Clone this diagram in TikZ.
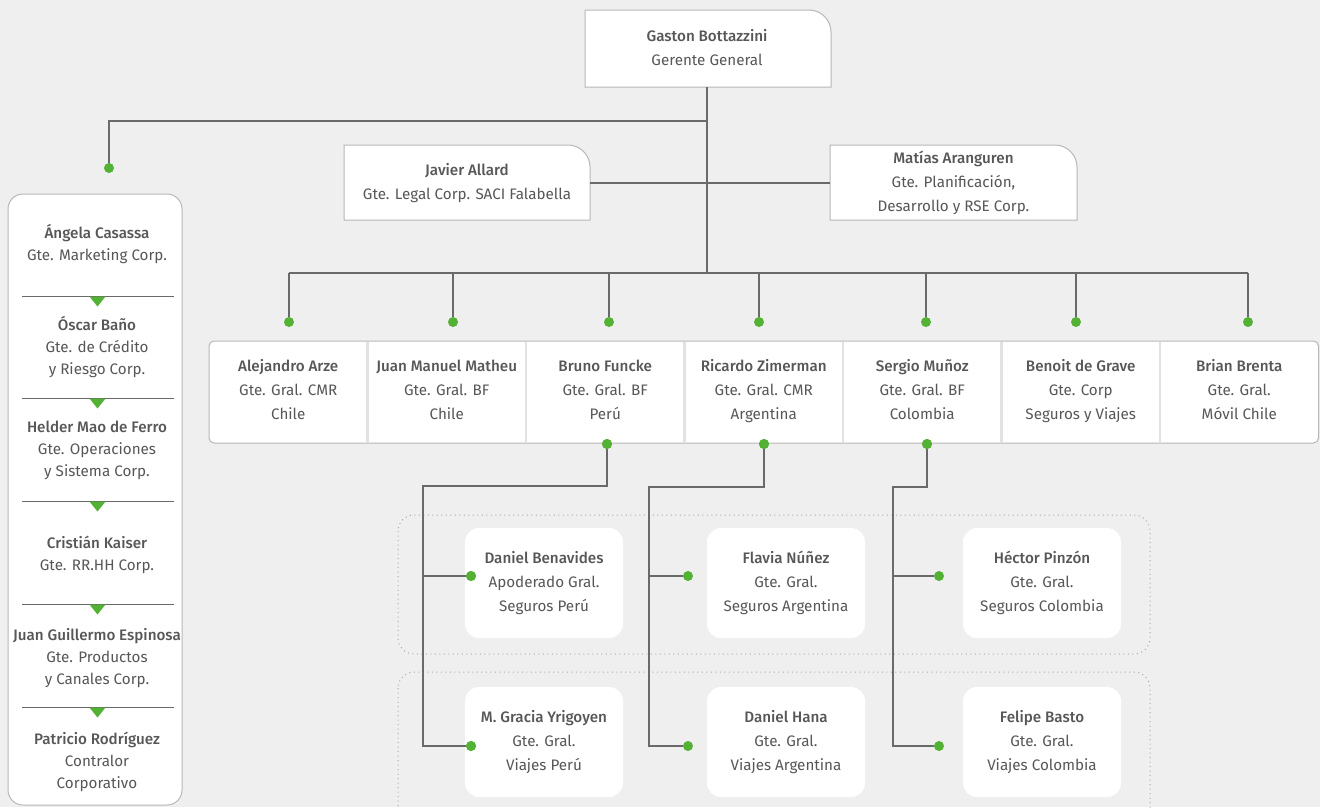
\documentclass[tikz,border=0pt]{standalone}
\usepackage{fontspec}
\setmainfont{Fira Sans}[BoldFont={Fira Sans Medium}]
\definecolor{bgc}{HTML}{EFEFEF}
\definecolor{bordc}{HTML}{B8B8B8}
\definecolor{linec}{HTML}{6A6A6A}
\definecolor{grn}{HTML}{53B134}
\definecolor{txtc}{HTML}{575757}
\definecolor{frc}{HTML}{A8A8A8}
\definecolor{sepc}{HTML}{E2E2E2}
\newcommand{\nm}[2]{\strut\textbf{#1}\\#2\strut}
\begin{document}
\begin{tikzpicture}[x=1pt,y=-1pt,
  txt/.style={font=\fontsize{15.2}{24}\selectfont, text=txtc, align=center, inner sep=0pt},
  ltxt/.style={font=\fontsize{15.2}{22}\selectfont, text=txtc, align=center, inner sep=0pt},
  cell/.style={txt, minimum width=158pt, minimum height=102pt},
  wbox/.style={txt, fill=white, rounded corners=14pt, minimum width=158pt, minimum height=110pt},
  gdot/.style={circle, fill=grn, inner sep=0pt, minimum size=10pt},
  conn/.style={draw=linec, line width=1.1pt},
  frame/.style={draw=frc, line width=1pt, dash pattern=on 1pt off 3.5pt, rounded corners=16pt},
  outl/.style={fill=white, draw=bordc, line width=1pt},
  sepl/.style={draw=linec, line width=1pt},
  tri/.style={fill=grn}
]
\useasboundingbox (0,0) rectangle (1320,807);
\fill[bgc] (0,0) rectangle (1320,807);
\clip (0,0) rectangle (1320,807);

% ---------- top box ----------
\path[outl] (585,87) -- (585,10) -- (809,10) .. controls (821.1,10) and (831,19.9) .. (831,32) -- (831,87) -- cycle;
\node[txt, minimum width=246pt, minimum height=77pt] (gm) at (707,48.5) {\nm{Gaston Bottazzini}{Gerente General}};

% ---------- staff boxes ----------
\path[outl] (344,220) -- (344,145) -- (568,145) .. controls (580.1,145) and (590,154.9) .. (590,167) -- (590,220) -- cycle;
\node[txt, minimum width=246pt, minimum height=75pt] (ja) at (467,183) {\nm{Javier Allard}{Gte. Legal Corp. SACI Falabella}};
\path[outl] (830,220) -- (830,145) -- (1055,145) .. controls (1067.1,145) and (1077,154.9) .. (1077,167) -- (1077,220) -- cycle;
\node[txt, minimum width=247pt, minimum height=75pt] (ma) at (953.5,183) {\nm{Matías Aranguren}{Gte. Planificación,\\Desarrollo y RSE Corp.}};

% ---------- left column ----------
\draw[outl, rounded corners=15pt] (8,194) rectangle (182,805);
\node[ltxt] (l1) at (97,245) {\nm{Ángela Casassa}{Gte. Marketing Corp.}};
\node[ltxt] (l2) at (97,348) {\nm{Óscar Baño}{Gte. de Crédito\\y Riesgo Corp.}};
\node[ltxt] (l3) at (97,450) {\nm{Helder Mao de Ferro}{Gte. Operaciones\\y Sistema Corp.}};
\node[ltxt] (l4) at (97,555) {\nm{Cristián Kaiser}{Gte. RR.HH Corp.}};
\node[ltxt] (l5) at (97,658) {\nm{Juan Guillermo Espinosa}{Gte. Productos\\y Canales Corp.}};
\node[ltxt] (l6) at (97,762) {\nm{Patricio Rodríguez}{Contralor\\Corporativo}};
\foreach \yy in {296,398,501,604,707}{
  \draw[sepl] (22,\yy) -- (174,\yy);
  \fill[tri] (89.5,\yy+0.5) -- (105.5,\yy+0.5) -- (97.5,\yy+10.5) -- cycle;
}
\node[gdot] (ldot) at (109,168) {};

% ---------- row of direct reports ----------
\draw[outl, rounded corners=5pt] (209,341) rectangle (1318.5,443);
\foreach \xx in {367.5,526,684.5,843,1001.5,1160}{
  \draw[sepc, line width=2.5pt] (\xx,341.5) -- (\xx,442.5);
}
\node[cell] (c1) at (288.25,391) {\nm{Alejandro Arze}{Gte. Gral. CMR\\Chile}};
\node[cell] (c2) at (446.75,391) {\nm{Juan Manuel Matheu}{Gte. Gral. BF\\Chile}};
\node[cell] (c3) at (605.25,391) {\nm{Bruno Funcke}{Gte. Gral. BF\\Perú}};
\node[cell] (c4) at (763.75,391) {\nm{Ricardo Zimerman}{Gte. Gral. CMR\\Argentina}};
\node[cell] (c5) at (922.25,391) {\nm{Sergio Muñoz}{Gte. Gral. BF\\Colombia}};
\node[cell] (c6) at (1080.75,391) {\nm{Benoit de Grave}{Gte. Corp\\Seguros y Viajes}};
\node[cell] (c7) at (1239.25,391) {\nm{Brian Brenta}{Gte. Gral.\\Móvil Chile}};

% dots above row
\node[gdot] (d1) at (289,322) {};
\node[gdot] (d2) at (453,322) {};
\node[gdot] (d3) at (609,322) {};
\node[gdot] (d4) at (759,322) {};
\node[gdot] (d5) at (926,322) {};
\node[gdot] (d6) at (1076,322) {};
\node[gdot] (d7) at (1248,322) {};

% ---------- connectors top ----------
\coordinate (busL) at (289,273);
\coordinate (busR) at (1248,273);
\coordinate (busM) at (707,273);
\coordinate (br1) at (707,121);
\draw[conn] (gm.south) -- (busM);
\draw[conn] (br1) -| (ldot);
\draw[conn] (ja.east) -- (ma.west);
\draw[conn] (busL) -- (busR);
\foreach \d in {d1,d2,d3,d4,d5,d6,d7}{
  \draw[conn] (\d |- busL) -- (\d);
}

% ---------- dotted frames ----------
\draw[frame] (398,515) rectangle (1150,654);
\draw[frame] (398,672) rectangle (1150,840);

% ---------- subsidiaries ----------
\node[wbox] (s1) at (544,583) {\nm{Daniel Benavides}{Apoderado Gral.\\Seguros Perú}};
\node[wbox] (s2) at (786,583) {\nm{Flavia Núñez}{Gte. Gral.\\Seguros Argentina}};
\node[wbox] (s3) at (1042,583) {\nm{Héctor Pinzón}{Gte. Gral.\\Seguros Colombia}};
\node[wbox] (v1) at (544,742) {\nm{M. Gracia Yrigoyen}{Gte. Gral.\\Viajes Perú}};
\node[wbox] (v2) at (786,742) {\nm{Daniel Hana}{Gte. Gral.\\Viajes Argentina}};
\node[wbox] (v3) at (1042,742) {\nm{Felipe Basto}{Gte. Gral.\\Viajes Colombia}};

\node[gdot] (e3) at (607,444) {};
\node[gdot] (e4) at (764,444) {};
\node[gdot] (e5) at (927,444) {};

\node[gdot] (gs1) at (471,576) {};
\node[gdot] (gs2) at (688,576) {};
\node[gdot] (gs3) at (939,576) {};
\node[gdot] (gv1) at (471,746) {};
\node[gdot] (gv2) at (688,746) {};
\node[gdot] (gv3) at (939,746) {};

\coordinate (k3) at (423,486);
\coordinate (k4) at (649,487);
\coordinate (k5) at (893,487);
\draw[conn] (e3) |- (k3) -- (k3 |- gv1) -- (gv1);
\draw[conn] (k3 |- gs1) -- (gs1);
\draw[conn] (e4) |- (k4) -- (k4 |- gv2) -- (gv2);
\draw[conn] (k4 |- gs2) -- (gs2);
\draw[conn] (e5) |- (k5) -- (k5 |- gv3) -- (gv3);
\draw[conn] (k5 |- gs3) -- (gs3);
\node[gdot] at (e3) {};
\node[gdot] at (e4) {};
\node[gdot] at (e5) {};
\node[gdot] at (gs1) {};
\node[gdot] at (gv1) {};
\end{tikzpicture}
\end{document}
